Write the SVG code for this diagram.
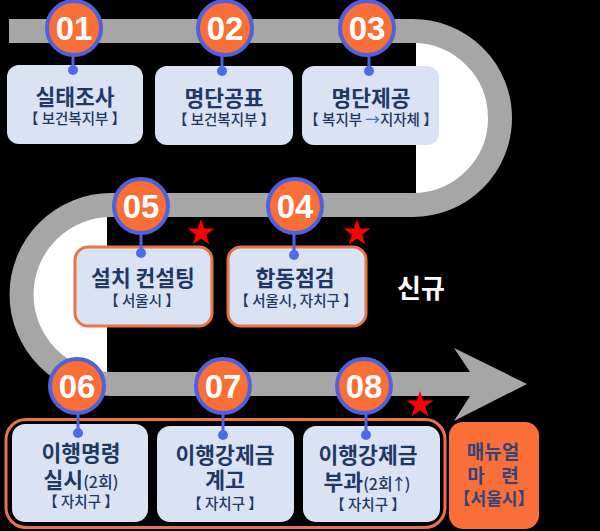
<svg xmlns="http://www.w3.org/2000/svg" width="600" height="531" viewBox="0 0 600 531">
<defs>
<style>
text{font-family:"Noto Sans CJK KR","Liberation Sans",sans-serif;text-anchor:middle}
.box{fill:#dae3f3}
.hl{stroke:#e9744a;stroke-width:3}
.t{font-size:21.5px;font-weight:700;fill:#203864}
.s{font-size:14.500px;font-weight:500;fill:#203864}
.sm{font-size:16px;font-weight:500}
.m{font-size:19px;font-weight:700;fill:#33447a}
.c{fill:#fa6e37;stroke:#4f61dc;stroke-width:4}
.n{font-family:"Liberation Sans",sans-serif;font-size:33px;font-weight:700;fill:#fff}
.stem{stroke:#4f61dc;stroke-width:3;marker-end:url(#dot)}
.star{fill:#fe0000}
</style>
<marker id="dot" markerUnits="userSpaceOnUse" markerWidth="12" markerHeight="12" refX="6" refY="6"><circle cx="6" cy="6" r="5" fill="#4f6ae6"/></marker>
<polygon id="st" points="0,-14 3.2,-4.4 13.3,-4.4 5.2,1.7 8.2,11.3 0,5.4 -8.2,11.3 -5.2,1.7 -13.3,-4.4 -3.2,-4.4"/>
</defs>
<rect width="600" height="531" fill="#000"/>
<g id="track">
<path d="M416 31A87 87 0 0 1 416 205ZM107 205H111A89.5 89.5 0 0 0 111 384H107Z" fill="#fff"/>
<path d="M9 31H413A87 87 0 0 1 413 205H111A89.5 89.5 0 0 0 111 384H472" fill="none" stroke="#a6a6a6" stroke-width="24"/>
<polygon points="454,348 527,384 454,421 470,396 470,372" fill="#a6a6a6"/>
</g>
<rect id="group-border" x="6" y="419.500" width="439" height="108" rx="20" fill="none" stroke="#e9744a" stroke-width="3"/>
<g id="n1"><rect class="box" x="7" y="65" width="136" height="79" rx="12"/><text class="t" x="75" y="105">실태조사</text><text class="s" x="75" y="124">【 보건복지부 】</text></g>
<g id="n2"><rect class="box" x="155" y="66" width="138" height="79" rx="12"/><text class="t" x="224" y="106">명단공표</text><text class="s" x="224" y="125">【 보건복지부 】</text></g>
<g id="n3"><rect class="box" x="302" y="66" width="137" height="79" rx="12"/><text class="t" x="371" y="106">명단제공</text><text class="s" x="371" y="125">【 복지부 <tspan fill="#4472c4">→</tspan>지자체 】</text></g>
<g id="n5"><rect class="box hl" x="75" y="247" width="137" height="79" rx="13"/><text class="t" x="143" y="286">설치 컨설팅</text><text class="s" x="142" y="306">【 서울시 】</text></g>
<g id="n4"><rect class="box hl" x="228" y="247" width="138" height="79" rx="13"/><text class="t" x="295" y="286">합동점검</text><text class="s" x="296" y="306">【 서울시, 자치구 】</text></g>
<g id="n6"><rect class="box" x="12" y="424" width="136" height="98" rx="13"/><text class="t" x="81" y="461">이행명령</text><text class="t" x="81" y="488">실시<tspan class="sm">(2회)</tspan></text><text class="s" x="81" y="507">【 자치구 】</text></g>
<g id="n7"><rect class="box" x="157" y="426" width="137" height="96" rx="13"/><text class="t" x="225" y="463">이행강제금</text><text class="t" x="225" y="488">계고</text><text class="s" x="225" y="509">【 자치구 】</text></g>
<g id="n8"><rect class="box" x="303" y="426" width="137" height="96" rx="13"/><text class="t" x="368" y="463">이행강제금</text><text class="t" x="367" y="490">부과<tspan class="sm">(2회<tspan dx="-2">↑</tspan><tspan dx="-2">)</tspan></tspan></text><text class="s" x="368" y="510">【 자치구 】</text></g>
<g id="manual"><rect x="449" y="422" width="90" height="107" rx="14" fill="#fa6e37"/><text class="m" x="493" y="459">매뉴얼</text><text class="m" x="476" y="483">마</text><text class="m" x="510" y="483">련</text><text class="m" style="font-size:17px" x="494" y="505">【서울시】</text></g>
<g id="connectors">
<path class="stem" d="M73 54V70"/><path class="stem" d="M222 54V71"/><path class="stem" d="M369 54V71"/>
<path class="stem" d="M141 232V253"/><path class="stem" d="M294 232V255"/>
<path class="stem" d="M78 412V433"/><path class="stem" d="M223 412V435"/><path class="stem" d="M366 412V435"/>
</g>
<g id="b1"><circle class="c" cx="74" cy="28" r="27"/><text class="n" x="74" y="40">01</text></g>
<g id="b2"><circle class="c" cx="225" cy="28" r="27"/><text class="n" x="225" y="40">02</text></g>
<g id="b3"><circle class="c" cx="367" cy="28" r="27"/><text class="n" x="367" y="40">03</text></g>
<g id="b5"><circle class="c" cx="141" cy="206" r="27"/><text class="n" x="141" y="218">05</text></g>
<g id="b4"><circle class="c" cx="295" cy="206" r="27"/><text class="n" x="295" y="218">04</text></g>
<g id="b6"><circle class="c" cx="77" cy="386" r="27"/><text class="n" x="77" y="398">06</text></g>
<g id="b7"><circle class="c" cx="223" cy="386" r="27"/><text class="n" x="223" y="398">07</text></g>
<g id="b8"><circle class="c" cx="364" cy="386" r="27"/><text class="n" x="364" y="398">08</text></g>
<use class="star" href="#st" x="201" y="233"/>
<use class="star" href="#st" x="357" y="233"/>
<use class="star" href="#st" x="420" y="405"/>
<text id="new" x="421" y="298" font-size="26" font-weight="700" fill="#fff">신규</text>
</svg>
